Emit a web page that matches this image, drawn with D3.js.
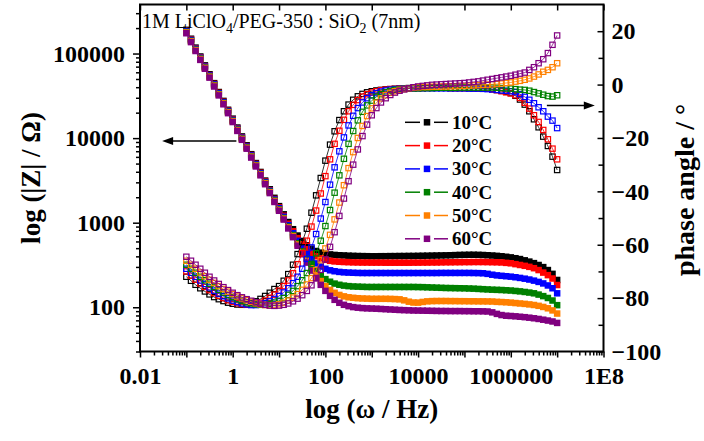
<!DOCTYPE html>
<html>
<head>
<meta charset="utf-8">
<script src="https://cdn.jsdelivr.net/npm/d3@7"></script>
<style>
  body { margin: 0; background: #fff; }
  svg text { font-family: "Liberation Serif", "Times New Roman", serif; }
</style>
</head>
<body>
<script>
// frequency sweep, Hz (10 points per decade)
const freq = [
  0.1, 0.126, 0.158, 0.2, 0.251, 0.316, 0.398, 0.501, 0.631, 0.794,
  1, 1.26, 1.58, 2, 2.51, 3.16, 3.98, 5.01, 6.31, 7.94,
  10, 12.6, 15.8, 20, 25.1, 31.6, 39.8, 50.1, 63.1, 79.4,
  100, 126, 158, 200, 251, 316, 398, 501, 631, 794,
  1e3, 1.26e3, 1.58e3, 2e3, 2.51e3, 3.16e3, 3.98e3, 5.01e3, 6.31e3, 7.94e3,
  1e4, 1.26e4, 1.58e4, 2e4, 2.51e4, 3.16e4, 3.98e4, 5.01e4, 6.31e4, 7.94e4,
  1e5, 1.26e5, 1.58e5, 2e5, 2.51e5, 3.16e5, 3.98e5, 5.01e5, 6.31e5, 7.94e5,
  1e6, 1.26e6, 1.58e6, 2e6, 2.51e6, 3.16e6, 3.98e6, 5.01e6, 6.31e6, 7.94e6,
  1e7
];

const temps = ['10°C', '20°C', '30°C', '40°C', '50°C', '60°C'];

// log10(|Z| / ohm) for each temperature
const logZ10 = [
  5.28, 5.175, 5.07, 4.965, 4.86, 4.755, 4.65, 4.545, 4.44, 4.335,
  4.23, 4.125, 4.02, 3.915, 3.81, 3.705, 3.6, 3.498, 3.395, 3.294,
  3.196, 3.099, 3.008, 2.923, 2.848, 2.784, 2.733, 2.693, 2.665, 2.646,
  2.632, 2.625, 2.619, 2.615, 2.613, 2.61, 2.608, 2.606, 2.605, 2.604,
  2.603, 2.603, 2.604, 2.604, 2.605, 2.605, 2.606, 2.606, 2.607, 2.607,
  2.608, 2.609, 2.61, 2.611, 2.612, 2.613, 2.614, 2.615, 2.617, 2.619,
  2.62, 2.621, 2.621, 2.62, 2.618, 2.615, 2.612, 2.608, 2.603, 2.597,
  2.59, 2.58, 2.57, 2.555, 2.54, 2.522, 2.5, 2.475, 2.44, 2.395, 2.323
];
const logZ20 = [
  5.27, 5.165, 5.06, 4.955, 4.85, 4.745, 4.64, 4.535, 4.43, 4.325,
  4.22, 4.115, 4.01, 3.905, 3.8, 3.695, 3.59, 3.487, 3.383, 3.28,
  3.181, 3.082, 2.988, 2.899, 2.817, 2.745, 2.686, 2.638, 2.603, 2.578,
  2.561, 2.549, 2.542, 2.538, 2.535, 2.533, 2.531, 2.53, 2.529, 2.529,
  2.528, 2.528, 2.528, 2.527, 2.527, 2.527, 2.527, 2.527, 2.527, 2.528,
  2.528, 2.529, 2.529, 2.53, 2.53, 2.531, 2.532, 2.532, 2.533, 2.533,
  2.534, 2.534, 2.535, 2.535, 2.535, 2.534, 2.533, 2.532, 2.53, 2.525,
  2.52, 2.51, 2.5, 2.49, 2.478, 2.462, 2.44, 2.41, 2.38, 2.34, 2.263
];
const logZ30 = [
  5.265, 5.16, 5.055, 4.95, 4.845, 4.74, 4.635, 4.53, 4.425, 4.32,
  4.215, 4.11, 4.005, 3.9, 3.795, 3.69, 3.585, 3.48, 3.377, 3.274,
  3.171, 3.07, 2.971, 2.876, 2.786, 2.703, 2.63, 2.568, 2.519, 2.482,
  2.455, 2.437, 2.426, 2.418, 2.413, 2.41, 2.408, 2.406, 2.405, 2.405,
  2.405, 2.405, 2.405, 2.405, 2.405, 2.405, 2.405, 2.405, 2.405, 2.405,
  2.405, 2.405, 2.405, 2.405, 2.405, 2.406, 2.406, 2.406, 2.406, 2.406,
  2.406, 2.406, 2.405, 2.404, 2.402, 2.395, 2.385, 2.377, 2.372, 2.367,
  2.362, 2.355, 2.347, 2.338, 2.328, 2.315, 2.3, 2.282, 2.258, 2.225, 2.165
];
const logZ40 = [
  5.255, 5.15, 5.045, 4.94, 4.835, 4.73, 4.625, 4.52, 4.415, 4.31,
  4.205, 4.1, 3.995, 3.89, 3.785, 3.68, 3.575, 3.47, 3.366, 3.262,
  3.158, 3.055, 2.953, 2.854, 2.756, 2.663, 2.577, 2.498, 2.432, 2.376,
  2.333, 2.302, 2.28, 2.266, 2.256, 2.25, 2.246, 2.244, 2.242, 2.24,
  2.24, 2.24, 2.24, 2.24, 2.24, 2.24, 2.24, 2.24, 2.24, 2.24,
  2.239, 2.238, 2.236, 2.234, 2.232, 2.23, 2.228, 2.227, 2.226, 2.225,
  2.224, 2.222, 2.22, 2.217, 2.214, 2.211, 2.208, 2.206, 2.204, 2.201,
  2.198, 2.193, 2.188, 2.181, 2.174, 2.165, 2.15, 2.132, 2.11, 2.08, 2.025
];
const logZ50 = [
  5.25, 5.145, 5.04, 4.935, 4.83, 4.725, 4.62, 4.515, 4.41, 4.305,
  4.2, 4.095, 3.99, 3.885, 3.78, 3.675, 3.57, 3.465, 3.36, 3.256,
  3.151, 3.048, 2.944, 2.842, 2.742, 2.643, 2.549, 2.461, 2.381, 2.31,
  2.25, 2.205, 2.171, 2.146, 2.129, 2.118, 2.112, 2.107, 2.104, 2.102,
  2.1, 2.1, 2.1, 2.1, 2.099, 2.097, 2.094, 2.082, 2.066, 2.056,
  2.055, 2.063, 2.07, 2.073, 2.074, 2.074, 2.074, 2.073, 2.073, 2.072,
  2.072, 2.071, 2.071, 2.07, 2.07, 2.069, 2.068, 2.064, 2.062, 2.059,
  2.055, 2.05, 2.045, 2.04, 2.034, 2.027, 2.017, 2.004, 1.988, 1.963, 1.926
];
const logZ60 = [
  5.24, 5.135, 5.03, 4.925, 4.82, 4.715, 4.61, 4.505, 4.4, 4.295,
  4.19, 4.085, 3.98, 3.875, 3.77, 3.665, 3.56, 3.455, 3.35, 3.245,
  3.141, 3.037, 2.932, 2.829, 2.727, 2.627, 2.528, 2.434, 2.346, 2.265,
  2.194, 2.135, 2.088, 2.053, 2.029, 2.013, 2.002, 1.995, 1.99, 1.987,
  1.985, 1.983, 1.98, 1.977, 1.974, 1.971, 1.968, 1.966, 1.964, 1.962,
  1.961, 1.96, 1.959, 1.958, 1.957, 1.956, 1.956, 1.955, 1.955, 1.955,
  1.954, 1.954, 1.953, 1.953, 1.952, 1.95, 1.94, 1.922, 1.908, 1.9,
  1.897, 1.893, 1.888, 1.883, 1.877, 1.87, 1.862, 1.853, 1.843, 1.832, 1.815
];

// phase angle, degrees
const phase10 = [
  -72, -73.5, -75, -76.3, -77.5, -78.6, -79.6, -80.4, -81.1, -81.7,
  -82.1, -82.4, -82.5, -82.3, -81.8, -81.2, -80.3, -79.2, -78, -76.6,
  -75.5, -73.5, -71, -67.5, -63.5, -59, -54, -48, -41.5, -35,
  -28.5, -22.5, -17.5, -13.3, -10, -7.5, -5.7, -4.4, -3.5, -2.9,
  -2.5, -2.2, -2, -1.8, -1.7, -1.6, -1.5, -1.4, -1.3, -1.3,
  -1.2, -1.2, -1.2, -1.2, -1.2, -1.2, -1.2, -1.3, -1.3, -1.3,
  -1.3, -1.3, -1.4, -1.4, -1.5, -1.5, -1.7, -2, -2.3, -2.7,
  -3.2, -4.2, -5.6, -7.5, -10, -13, -16, -19.5, -23, -27, -32
];
const phase20 = [
  -70, -71.6, -73.1, -74.5, -75.8, -77, -78.1, -79.1, -80, -80.8,
  -81.4, -81.9, -82.3, -82.5, -82.5, -82.2, -81.7, -80.9, -79.9, -78.7,
  -77.2, -75.5, -73.4, -70.7, -67.3, -63.2, -58.5, -53.2, -47.2, -40.8,
  -34.3, -28, -22.2, -17.3, -13.2, -10, -7.6, -5.8, -4.5, -3.6,
  -3, -2.5, -2.1, -1.9, -1.7, -1.6, -1.5, -1.4, -1.4, -1.3,
  -1.3, -1.3, -1.2, -1.2, -1.2, -1.2, -1.2, -1.3, -1.3, -1.3,
  -1.3, -1.3, -1.4, -1.4, -1.4, -1.5, -1.8, -2.1, -2.5, -2.9,
  -3.3, -4, -5, -6.8, -9, -11.5, -14, -17, -20.5, -24, -28
];
const phase30 = [
  -69, -70.5, -72, -73.4, -74.7, -76, -77.2, -78.3, -79.3, -80.1,
  -80.9, -81.5, -82, -82.4, -82.6, -82.6, -82.4, -81.9, -81.2, -80.3,
  -79.2, -77.9, -76.3, -74.4, -72, -69, -65.3, -61, -56, -50.2,
  -44, -37.5, -31, -25, -19.8, -15.3, -11.7, -8.8, -6.7, -5.1,
  -4, -3.2, -2.6, -2.2, -1.9, -1.7, -1.6, -1.5, -1.5, -1.4,
  -1.4, -1.4, -1.4, -1.4, -1.4, -1.4, -1.4, -1.4, -1.4, -1.4,
  -1.4, -1.5, -1.5, -1.5, -1.6, -1.7, -1.8, -2, -2.2, -2.3,
  -2.5, -2.8, -3.6, -4.6, -5.7, -7, -8.5, -10, -12, -13.5, -16.3
];
const phase40 = [
  -67.5, -69, -70.5, -72, -73.3, -74.6, -75.8, -76.9, -77.9, -78.8,
  -79.6, -80.4, -81, -81.6, -82, -82.3, -82.5, -82.5, -82.2, -81.7,
  -81, -80, -78.8, -77.3, -75.5, -73.3, -70.6, -67.2, -63.2, -58.5,
  -53, -47, -40.5, -34, -27.8, -22.2, -17.4, -13.4, -10.2, -7.8,
  -6, -4.6, -3.6, -2.9, -2.4, -2, -1.8, -1.6, -1.5, -1.4,
  -1.4, -1.3, -1.3, -1.3, -1.2, -1.2, -1.2, -1.2, -1.2, -1.1,
  -1.1, -1.1, -1.1, -1.1, -1.1, -1.1, -1.1, -1.2, -1.3, -1.4,
  -1.5, -1.7, -1.9, -2, -2.3, -2.8, -3.3, -3.8, -4.3, -4.5, -4
];
const phase50 = [
  -66, -67.5, -69, -70.4, -71.8, -73.1, -74.3, -75.5, -76.6, -77.6,
  -78.5, -79.4, -80.1, -80.8, -81.4, -81.9, -82.3, -82.6, -82.7, -82.6,
  -82.3, -81.7, -80.9, -79.8, -78.5, -76.9, -74.9, -72.5, -69.5, -65.8,
  -61.4, -56.3, -50.5, -44.2, -37.7, -31.3, -25.3, -20, -15.5, -11.8,
  -8.9, -6.8, -5.2, -4, -3.1, -2.5, -2, -1.7, -1.4, -1.2,
  -1, -0.9, -0.9, -0.8, -0.8, -0.7, -0.7, -0.6, -0.6, -0.5,
  -0.5, -0.4, -0.3, -0.2, -0.1, 0, 0.1, 0.2, 0.4, 0.6,
  0.8, 1.1, 1.4, 1.8, 2.3, 3, 3.8, 4.8, 5.5, 6.5, 8
];
const phase60 = [
  -64.5, -66, -67.5, -69, -70.5, -72, -73.4, -74.7, -75.9, -77,
  -78, -78.9, -79.7, -80.4, -81, -81.6, -82.1, -82.5, -82.8, -82.9,
  -82.8, -82.5, -82, -81.2, -80.2, -78.9, -77.3, -75.2, -72.6, -69.4,
  -65.5, -60.8, -55.3, -49.2, -42.7, -36.2, -30, -24.3, -19.3, -15,
  -11.5, -8.8, -6.7, -5.1, -3.9, -3, -2.3, -1.8, -1.4, -1,
  -0.7, -0.5, -0.3, -0.1, 0, 0.1, 0.2, 0.3, 0.4, 0.5,
  0.6, 0.8, 1, 1.2, 1.5, 1.8, 2.1, 2.4, 2.7, 3,
  3.3, 3.7, 4.1, 4.5, 5.5, 6.5, 8, 9.5, 11.8, 14.9, 18.4
];

const xTicks = [0.01, 1, 100, 10000, 1000000, 1e8];
const xTickLabels = ['0.01', '1', '100', '10000', '1000000', '1E8'];
const zTicks = [100, 1000, 10000, 100000];
const phaseTicks = [-100, -80, -60, -40, -20, 0, 20];

const colors = ['#000000', '#ff0000', '#0000ff', '#008000', '#ff8000', '#800080'];
const logZ = [logZ10, logZ20, logZ30, logZ40, logZ50, logZ60];
const phase = [phase10, phase20, phase30, phase40, phase50, phase60];

const svgWidth = 704;
const svgHeight = 441;
const margin = { top: 4.5, right: 100.5, bottom: 89.5, left: 140 };
const width = svgWidth - margin.left - margin.right;
const height = svgHeight - margin.top - margin.bottom;

const svg = d3.select('body')
  .append('svg')
  .attr('width', svgWidth)
  .attr('height', svgHeight);

const x = d3.scaleLog().domain([0.01, 1e8]).range([0, width]);
const yZ = d3.scaleLog().domain([30, 380000]).range([height, 0]);
const yP = d3.scaleLinear().domain([-100, 30]).range([height, 0]);

const series = temps.map((label, k) => ({
  label,
  color: colors[k],
  points: freq.map((f, i) => ({ f, z: 10 ** logZ[k][i], p: phase[k][i] }))
}));

const plot = svg.append('g')
  .attr('transform', `translate(${margin.left},${margin.top})`);

const zLine = d3.line().x(d => x(d.f)).y(d => yZ(d.z));
const pLine = d3.line().x(d => x(d.f)).y(d => yP(d.p));
const sq = 6.5;

// |Z| : filled squares
series.forEach(s => {
  const g = plot.append('g');
  g.append('path')
    .datum(s.points)
    .attr('d', zLine)
    .attr('fill', 'none')
    .attr('stroke', s.color)
    .attr('stroke-width', 1);
  g.selectAll('rect')
    .data(s.points)
    .join('rect')
      .attr('x', d => x(d.f) - sq / 2)
      .attr('y', d => yZ(d.z) - sq / 2)
      .attr('width', sq)
      .attr('height', sq)
      .attr('fill', s.color);
});

// phase : open squares
series.forEach(s => {
  const g = plot.append('g');
  g.append('path')
    .datum(s.points)
    .attr('d', pLine)
    .attr('fill', 'none')
    .attr('stroke', s.color)
    .attr('stroke-width', 0.8);
  g.selectAll('rect')
    .data(s.points)
    .join('rect')
      .attr('x', d => x(d.f) - sq / 2 + 0.6)
      .attr('y', d => yP(d.p) - sq / 2 + 0.6)
      .attr('width', sq - 1.2)
      .attr('height', sq - 1.2)
      .attr('fill', 'none')
      .attr('stroke', s.color)
      .attr('stroke-width', 1.2);
});

// arrows pointing at each axis
const arrow = (x0, x1, y) => {
  const dir = Math.sign(x1 - x0);
  plot.append('line')
    .attr('x1', x0).attr('x2', x1 - dir * 8)
    .attr('y1', y).attr('y2', y)
    .attr('stroke', '#000')
    .attr('stroke-width', 1.5);
  plot.append('path')
    .attr('d', `M${x1},${y}L${x1 - dir * 11},${y - 4}L${x1 - dir * 11},${y + 4}Z`)
    .attr('fill', '#000');
};
arrow(x(1.2), x(0.03), yZ(9250));
arrow(x(6e6), x(6.5e7), yP(-7.8));

// axes
const styleAxis = (g, size) => {
  g.select('.domain').remove();
  g.selectAll('line').attr('stroke-width', 1.5);
  g.selectAll('text')
    .attr('font-family', '"Liberation Serif", "Times New Roman", serif')
    .attr('font-weight', 'bold')
    .attr('font-size', size)
    .attr('fill', '#000');
};

const decades = x.ticks(20).filter(d => Math.abs(Math.log10(d) % 1) < 1e-9);
const xMinor = x.ticks(20).filter(d => !decades.includes(d));
const zMinor = yZ.ticks(20).filter(d => Math.abs(Math.log10(d) % 1) > 1e-9);
const pMinor = yP.ticks(13).filter(d => d % 20 !== 0 && d < 30);

plot.append('g')
  .attr('transform', `translate(0,${height})`)
  .call(d3.axisBottom(x).tickValues(xMinor).tickSize(4).tickFormat(''))
  .call(g => styleAxis(g, 24));
plot.append('g')
  .attr('transform', `translate(0,${height})`)
  .call(d3.axisBottom(x).tickValues(decades).tickSize(6).tickPadding(9)
    .tickFormat(d => {
      const k = xTicks.findIndex(t => Math.abs(Math.log10(t) - Math.log10(d)) < 1e-9);
      return k >= 0 ? xTickLabels[k] : '';
    }))
  .call(g => styleAxis(g, 24));

plot.append('g')
  .call(d3.axisTop(x).tickValues(decades).tickSize(-6).tickFormat(''))
  .call(g => styleAxis(g, 24));

plot.append('g')
  .call(d3.axisLeft(yZ).tickValues(zMinor).tickSize(4).tickFormat(''))
  .call(g => styleAxis(g, 24));
plot.append('g')
  .call(d3.axisLeft(yZ).tickValues(zTicks).tickSize(7).tickPadding(8).tickFormat(d3.format('d')))
  .call(g => styleAxis(g, 24));

plot.append('g')
  .attr('transform', `translate(${width},0)`)
  .call(d3.axisRight(yP).tickValues(pMinor).tickSize(-5).tickFormat(''))
  .call(g => styleAxis(g, 24));
plot.append('g')
  .attr('transform', `translate(${width},0)`)
  .call(d3.axisRight(yP).tickValues(phaseTicks).tickSize(-6).tickPadding(8).tickFormat(d3.format('d')))
  .call(g => styleAxis(g, 24));

plot.append('rect')
  .attr('width', width)
  .attr('height', height)
  .attr('fill', 'none')
  .attr('stroke', '#000')
  .attr('stroke-width', 2);

// axis titles
svg.append('text')
  .attr('x', margin.left + width / 2)
  .attr('y', 418)
  .attr('text-anchor', 'middle')
  .attr('font-weight', 'bold')
  .attr('font-size', 27)
  .text('log (ω / Hz)');

svg.append('text')
  .attr('transform', `translate(40,${margin.top + height / 2}) rotate(-90)`)
  .attr('text-anchor', 'middle')
  .attr('font-weight', 'bold')
  .attr('font-size', 27)
  .text('log (|Z| / Ω)');

svg.append('text')
  .attr('transform', `translate(694,190) rotate(-90)`)
  .attr('text-anchor', 'middle')
  .attr('font-weight', 'bold')
  .attr('font-size', 28)
  .text('phase angle / °');

// sample label
const title = svg.append('text')
  .attr('x', 142)
  .attr('y', 28)
  .attr('font-size', 20);
title.append('tspan').text('1M LiClO');
title.append('tspan').attr('font-size', 14).attr('dy', 5).text('4');
title.append('tspan').attr('dy', -5).text('/PEG-350 : SiO');
title.append('tspan').attr('font-size', 14).attr('dy', 5).text('2');
title.append('tspan').attr('dy', -5).text(' (7nm)');

// legend
const legend = svg.append('g').attr('transform', 'translate(405,122.3)');
series.forEach((s, k) => {
  const row = legend.append('g').attr('transform', `translate(0,${k * 23.3})`);
  row.append('line').attr('x1', 0).attr('x2', 15).attr('stroke', s.color).attr('stroke-width', 1.5);
  row.append('line').attr('x1', 29).attr('x2', 43).attr('stroke', s.color).attr('stroke-width', 1.5);
  row.append('rect')
    .attr('x', 22 - sq / 2).attr('y', -sq / 2)
    .attr('width', sq).attr('height', sq)
    .attr('fill', s.color);
  row.append('text')
    .attr('x', 47)
    .attr('y', 6.5)
    .attr('font-weight', 'bold')
    .attr('font-size', 19)
    .text(s.label);
});
</script>
</body>
</html>
